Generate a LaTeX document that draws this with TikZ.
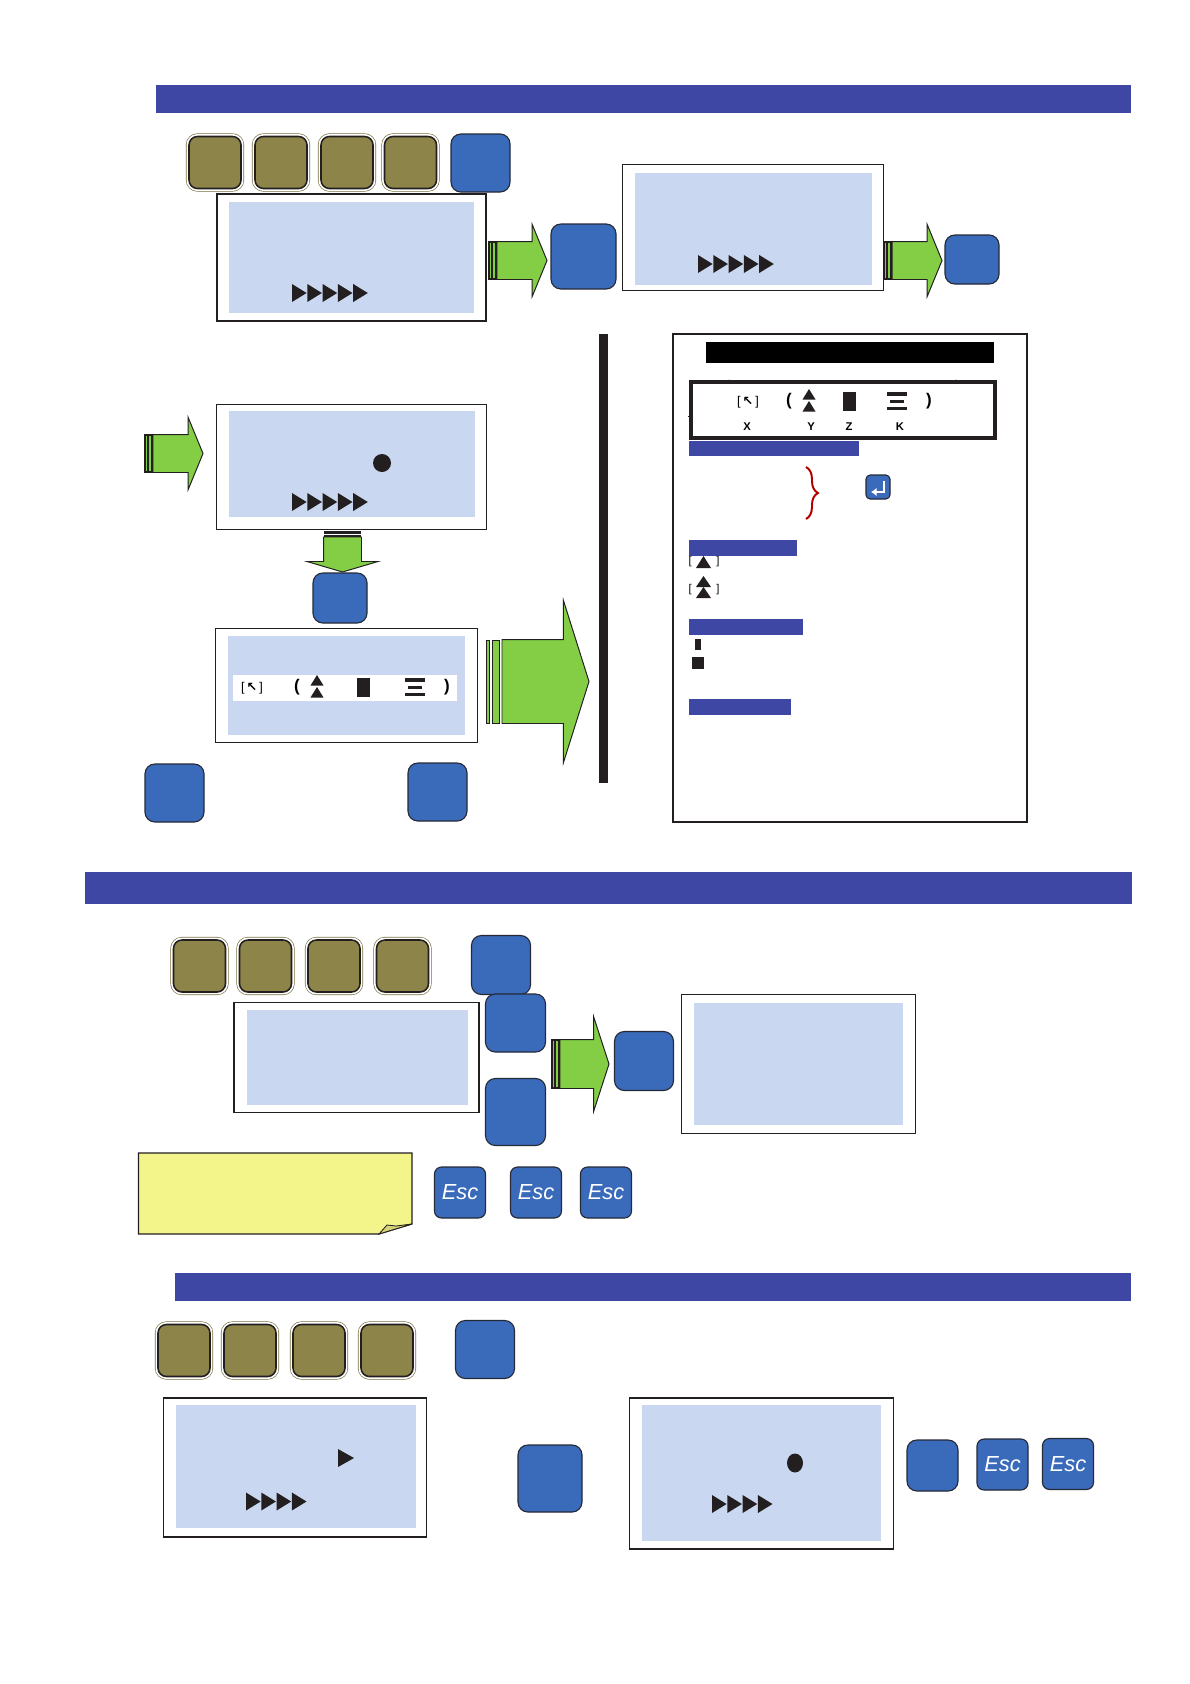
\documentclass[tikz,border=0pt]{standalone}
\usepackage{fontspec}
\setmainfont{Liberation Sans}
\newfontfamily\symfont{DejaVu Sans}
\usetikzlibrary{arrows.meta,positioning,shapes.geometric,shapes.arrows,calc,decorations.pathreplacing}
\definecolor{barblue}{HTML}{3E47A3}
\definecolor{keyblue}{HTML}{3A6ABA}
\definecolor{keyolive}{HTML}{8C8449}
\definecolor{lcdblue}{HTML}{C9D8F0}
\definecolor{arrowgreen}{HTML}{84CE46}
\definecolor{noteyellow}{HTML}{F3F58B}
\definecolor{inkdark}{HTML}{231F20}
\newcommand{\tailbars}[3]{%
  \draw[draw=inkdark, fill=arrowgreen, line width=0.8pt] (#1,#2-#3/2) rectangle (#1+2.5,#2+#3/2);
  \draw[draw=inkdark, fill=arrowgreen, line width=0.8pt] (#1+3.5,#2-#3/2) rectangle (#1+7,#2+#3/2);
}
\newcommand{\playrow}[3]{%
  \foreach \i in {1,...,#3}
    \fill[inkdark] (#1+15.3*\i-15.3,#2-9) -- ++(14.6,9) -- ++(-14.6,9) -- cycle;
}
\newcommand{\cursorsyms}[6]{%
  % x of each symbol: bracket, paren, triangles, block, lines, paren; #6 is y
  \node[font=\small] (#1br) at (#2,#6+1) {[\,{\symfont\small\bfseries ↖}\,]};
  \node[font=\large\bfseries] (#1po) at (#3,#6) {(};
  \fill[inkdark] (#3+20,#6-12) -- ++(6.5,10.5) -- ++(-13,0) -- cycle;
  \fill[inkdark] (#3+20,#6) -- ++(6.5,10.5) -- ++(-13,0) -- cycle;
  \fill[inkdark] (#4-6.5,#6-9.5) rectangle ++(13,19);
  \fill[inkdark] (#5-10,#6-9) rectangle ++(20,3.5);
  \fill[inkdark] (#5-7,#6-1.5) rectangle ++(14,3);
  \fill[inkdark] (#5-10,#6+5.5) rectangle ++(20,3.5);
  \node[font=\large\bfseries] (#1pc) at (#5+32,#6) {)};
}
\tikzset{
  sz/.style 2 args={minimum width=#1*0.025cm, minimum height=#2*0.025cm, inner sep=0pt, outer sep=0pt},
  bandbar/.style={rectangle, fill=barblue},
  lcdframe/.style={rectangle, draw=inkdark, fill=white, line width=1.4pt},
  lcdinner/.style={rectangle, fill=lcdblue},
  oldkey/.style={rectangle, rounded corners=6pt, sz={52}{52}, fill=keyolive, draw=inkdark, line width=1.1pt,
    preaction={draw=keyolive!85!black, line width=4.4pt},
    preaction={draw=white, line width=3.5pt}},
  bluekey/.style={rectangle, rounded corners=7pt, fill=keyblue, draw=inkdark!85!keyblue, line width=0.8pt},
  esckey/.style={bluekey, sz={51}{51}, rounded corners=5pt, text=white, font=\itshape\fontsize{15.5}{16}\selectfont},
  blockarrow/.style n args={4}{shape=single arrow, draw=inkdark, fill=arrowgreen, line width=0.7pt, outer sep=0pt,
    inner xsep=0pt, inner ysep=(#2/2-#3)*0.025cm,
    minimum height=#1*0.025cm,
    single arrow head extend=#3*0.025cm, single arrow tip angle=#4}
}
\begin{document}
\begin{tikzpicture}[x=0.025cm, y=-0.025cm]
  \useasboundingbox (0,0) rectangle (1190,1684);

  % first band
  \node[bandbar, sz={975}{28}] (bandone) at (643.5,99) {};
  \foreach \x/\n in {215/a,281/b,347/c,410.5/d}
    \node[oldkey] (top\n) at (\x,162.5) {};
  \node[bluekey, sz={59}{58}] (topenter) at (480.5,163) {};

  \node[lcdframe, sz={269}{127}] (scrone) at (351.5,257.5) {};
  \node[lcdinner, sz={245}{111}] (scroneview) at (351.5,257.5) {};
  \playrow{292}{293}{5}
  \tailbars{489}{260.5}{37}
  \node[blockarrow={50}{71}{17}{135.3}, anchor=tail] (arrowone) at (497,260.5) {};
  \node[bluekey, sz={65}{65}] (keytwo) at (583.5,256.5) {};

  \node[lcdframe, sz={261}{126}] (scrtwo) at (753,227.5) {};
  \node[lcdinner, sz={237}{112}] (scrtwoview) at (753.5,229) {};
  \playrow{698}{264}{5}
  \tailbars{884}{260.5}{37}
  \node[blockarrow={50}{71}{17}{135.3}, anchor=tail] (arrowtwo) at (892,260.5) {};
  \node[bluekey, sz={54}{49}] (keythree) at (972,259.5) {};

  % middle left
  \tailbars{145}{453.5}{37}
  \node[blockarrow={50}{71}{17}{135.3}, anchor=tail] (arrowthree) at (153,453.5) {};
  \node[lcdframe, sz={270}{125}] (scrthree) at (351.5,467) {};
  \node[lcdinner, sz={246}{106}] (scrthreeview) at (352,464) {};
  \fill[inkdark] (382,463) circle (9);
  \playrow{292}{502}{5}

  \fill[inkdark] (324,531) rectangle (361,533.5);
  \fill[inkdark] (324,535) rectangle (361,537);
  \node[blockarrow={35}{70}{16.5}{147}, rotate=-90, anchor=tail] (arrowdown) at (342.5,537) {};
  \node[bluekey, sz={54}{50}] (keyfour) at (340,598) {};

  \node[lcdframe, sz={262}{114}] (scrfour) at (346.5,685.5) {};
  \node[lcdinner, sz={237}{99}] (scrfourview) at (346.5,685.5) {};
  \node[rectangle, fill=white, sz={224}{26}] (scrfourline) at (345,688) {};
  \cursorsyms{m}{252}{297}{363}{415}{687}

  \draw[draw=inkdark, fill=arrowgreen, line width=0.6pt] (486,640) rectangle (489,723);
  \draw[draw=inkdark, fill=arrowgreen, line width=0.6pt] (492,640) rectangle (499,723);
  \node[blockarrow={87}{162}{39.5}{145}, anchor=tail] (arrowbig) at (502,681.5) {};

  \node[bluekey, sz={59}{58}] (keyleft) at (174.5,793) {};
  \node[bluekey, sz={59}{58}] (keyright) at (437.5,792) {};
  \node[rectangle, fill=inkdark, sz={9}{449}] (divider) at (603.5,558.5) {};

  % legend panel
  \node[rectangle, draw=inkdark, fill=white, line width=0.8pt, sz={354}{488}] (panel) at (850,578) {};
  \node[rectangle, fill=black, sz={288}{21}] (paneltitle) at (850,352.5) {};
  \node[rectangle, draw=inkdark, line width=2.2pt, sz={304}{56}] (panelbox) at (843,410) {};
  \draw[inkdark, line width=0.6pt] (688,416) -- (panelbox.west |- 0,416);
  \fill[inkdark] (729,381) circle (1.5) (956,381) circle (1.5);
  \cursorsyms{p}{748}{789}{849}{897}{401}
  \foreach \x/\t in {747/X,811/Y,849/Z,900/K}
    \node[font=\footnotesize\bfseries] (lab\t) at (\x,427) {\t};

  \node[bandbar, sz={170}{15}] (secone) at (774,448.5) {};
  \draw[draw={red!70!black}, line width=1.4pt, decorate, decoration={brace, amplitude=8.5pt}] (806,467) -- (806,519);
  \node[bluekey, sz={24}{24}, rounded corners=3pt] (panelenter) at (878,487) {};
  \draw[white, line width=1.4pt, -{Latex[length=4pt,width=6pt]}] (884,481) -- (884,492) -- (871,492);

  \node[bandbar, sz={108}{16}] (sectwo) at (743,548) {};
  \node[font=\footnotesize] (onebr) at (704,562) {[\hspace{2.2em}]};
  \fill[inkdark] (703.5,556) -- ++(7.5,12) -- ++(-15,0) -- cycle;
  \node[font=\footnotesize] (twobr) at (704,590) {[\hspace{2.2em}]};
  \fill[inkdark] (703.5,576) -- ++(7.5,11) -- ++(-15,0) -- cycle;
  \fill[inkdark] (703.5,587) -- ++(7.5,11) -- ++(-15,0) -- cycle;

  \node[bandbar, sz={114}{16}] (secthree) at (746,627) {};
  \fill[inkdark] (695,639) rectangle (701,650);
  \fill[inkdark] (692,657) rectangle (704,669);
  \node[bandbar, sz={102}{16}] (secfour) at (740,707) {};

  % second band
  \node[bandbar, sz={1047}{32}] (bandtwo) at (608.5,888) {};
  \foreach \x/\n in {199.5/a,265.5/b,334/c,402.5/d}
    \node[oldkey] (mid\n) at (\x,966) {};
  \node[bluekey, sz={59}{59}] (midenter) at (501,965) {};

  \node[lcdframe, line width=0.8pt, sz={245}{110}] (scrfive) at (356.5,1057.5) {};
  \node[lcdinner, sz={221}{95}] (scrfiveview) at (357.5,1057.5) {};
  \node[bluekey, sz={60}{58}] (keyup) at (515.5,1023) {};
  \node[bluekey, sz={60}{67}] (keydown) at (515.5,1112) {};
  \tailbars{552}{1064}{48}
  \node[blockarrow={49}{94}{23}{144}, anchor=tail] (arrowfive) at (560,1064) {};
  \node[bluekey, sz={59}{59}] (keyfive) at (644,1061) {};
  \node[lcdframe, line width=1.1pt, sz={234}{139}] (scrsix) at (798.5,1064) {};
  \node[lcdinner, sz={209}{122}] (scrsixview) at (798.5,1064) {};

  \draw[draw=inkdark, fill=noteyellow, line width=0.8pt] (138.5,1153) -- (412,1153) -- (412,1224) -- (379,1234) -- (138.5,1234) -- cycle;
  \draw[draw=inkdark, fill=noteyellow!70!keyolive, line width=0.6pt] (379,1234) -- (387,1225) -- (396,1226) -- (412,1224) -- cycle;
  \node[esckey] (escone) at (460,1192.5) {Esc};
  \node[esckey] (esctwo) at (536,1192.5) {Esc};
  \node[esckey] (escthree) at (606,1192.5) {Esc};

  % third band
  \node[bandbar, sz={956}{28}] (bandthree) at (653,1287) {};
  \foreach \x/\n in {184/a,250/b,319/c,387/d}
    \node[oldkey] (low\n) at (\x,1350.5) {};
  \node[bluekey, sz={59}{58}] (lowenter) at (485,1349.5) {};

  \node[lcdframe, sz={263}{139}] (scrseven) at (295,1467) {};
  \node[lcdinner, sz={240}{123}] (scrsevenview) at (296,1466.5) {};
  \fill[inkdark] (338,1449) -- (354,1458) -- (338,1467) -- cycle;
  \playrow{246}{1501.5}{4}
  \node[bluekey, sz={64}{67}] (keymid) at (550,1478.5) {};

  \node[lcdframe, sz={264}{151}] (screight) at (761.5,1473) {};
  \node[lcdinner, sz={239}{136}] (screightview) at (761.5,1473) {};
  \fill[inkdark] (795,1463) ellipse (8 and 9.5);
  \playrow{712}{1504}{4}
  \node[bluekey, sz={51}{51}] (keylast) at (932.5,1465.5) {};
  \node[esckey] (escfour) at (1002.5,1464.5) {Esc};
  \node[esckey] (escfive) at (1068,1464) {Esc};
\end{tikzpicture}
\end{document}
